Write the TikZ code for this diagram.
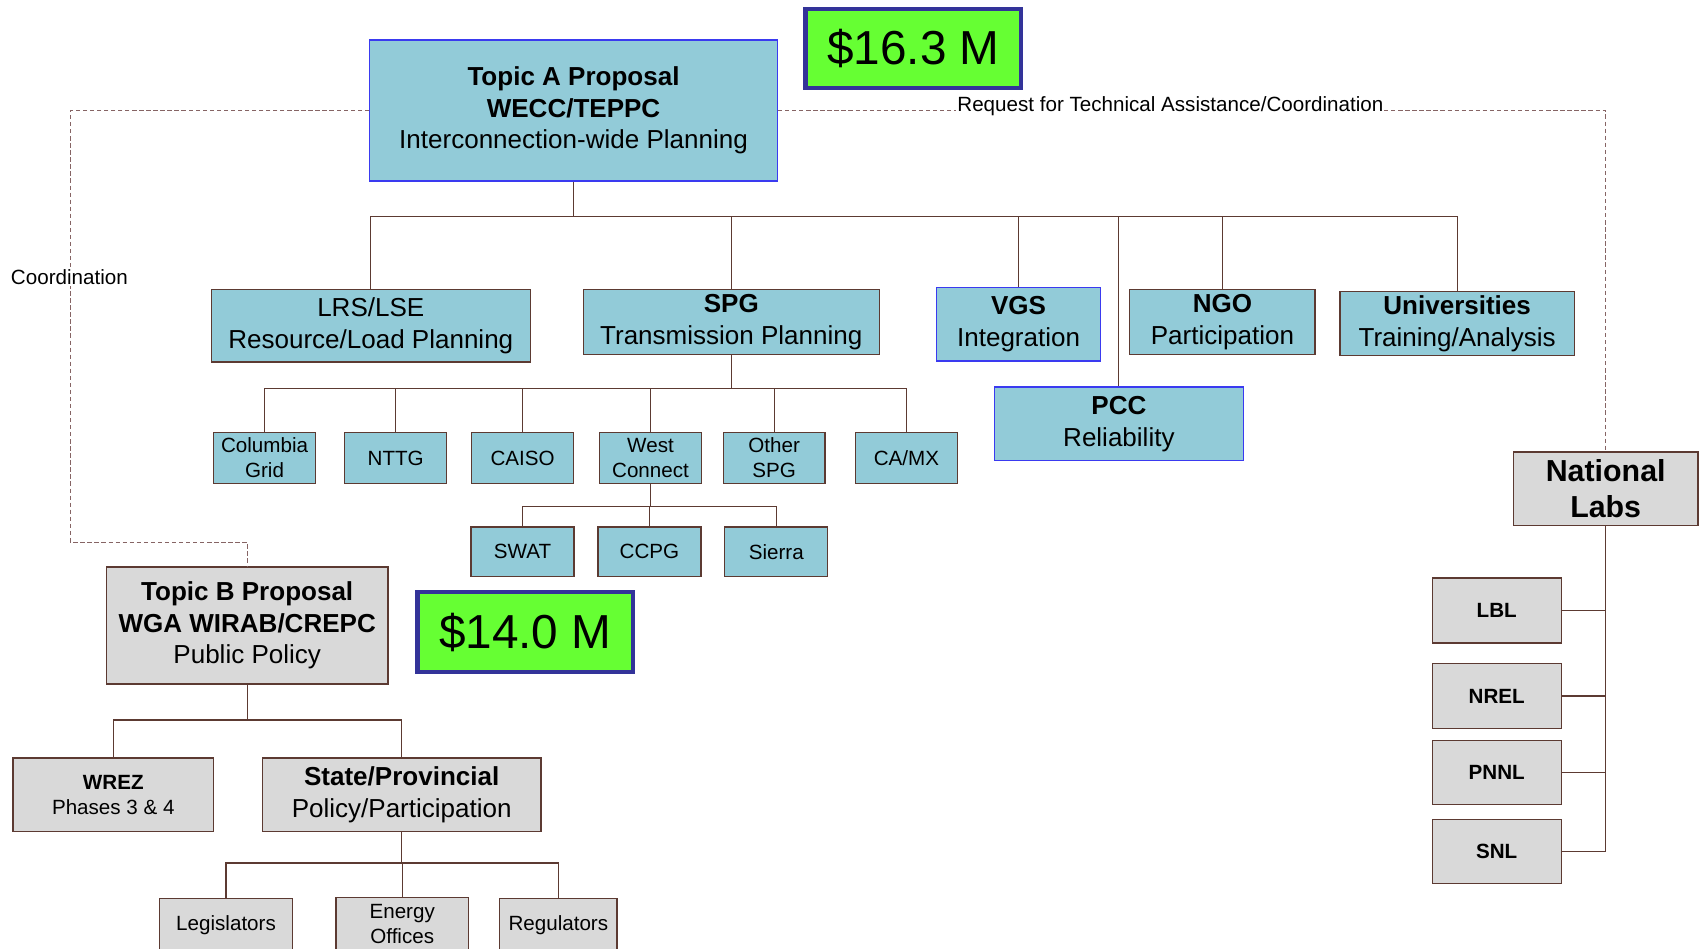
\documentclass[tikz,border=0pt]{standalone}
\usepackage{fontspec}
\setmainfont{Liberation Sans}
\usetikzlibrary{positioning}

\definecolor{aqua}{HTML}{92CBD8}
\definecolor{greyfill}{HTML}{D9D9D9}
\definecolor{limefill}{HTML}{66FF33}
\definecolor{navyedge}{HTML}{333399}
\definecolor{wire}{HTML}{5C3A32}
\definecolor{blueedge}{HTML}{3A3AF0}
\definecolor{dashcol}{HTML}{866464}

\newcommand{\szS}{\fontsize{19}{23}\selectfont}
\newcommand{\szM}{\fontsize{24}{29}\selectfont}
\newcommand{\szL}{\fontsize{28}{33}\selectfont}
\newcommand{\szX}{\fontsize{44}{50}\selectfont}

\begin{document}
\begin{tikzpicture}[x=1pt, y=-1pt,
        box/.style={draw=wire, line width=1.2pt, inner sep=0pt, align=center},
        aquabox/.style={box, fill=aqua},
        bluebox/.style={aquabox, draw=blueedge},
        greybox/.style={box, fill=greyfill},
        moneybox/.style={draw=navyedge, line width=4pt, fill=limefill, inner sep=0pt,
                         minimum width=199, minimum height=73, font=\szX},
        link/.style={draw=wire, line width=1.1pt},
        dashline/.style={draw=dashcol, line width=1pt, dash pattern=on 4pt off 2.5pt}]
        \useasboundingbox (0,0) rectangle (1568,875);

        \node[bluebox, minimum width=376, minimum height=130, font=\szM]   (topicA) at (529,102)    {\textbf{Topic A Proposal}\\\textbf{WECC/TEPPC}\\Interconnection-wide Planning};
        \node[moneybox]                                                    (moneyA) at (842.5,44.5) {\$16.3 M};

        \node[aquabox, minimum width=294, minimum height=67, font=\szM]    (lrs)    at (342,300.5)  {LRS/LSE\\Resource/Load Planning};
        \node[aquabox, minimum width=273, minimum height=60, font=\szM]    (spg)    at (674.5,297)  {\textbf{SPG}\\Transmission Planning};
        \node[bluebox, minimum width=151, minimum height=68, font=\szM]    (vgs)    at (939.5,299)  {\textbf{VGS}\\Integration};
        \node[aquabox, minimum width=171, minimum height=60, font=\szM]    (ngo)    at (1127.5,297) {\textbf{NGO}\\Participation};
        \node[aquabox, minimum width=216, minimum height=59, font=\szM]    (univ)   at (1344,298.5) {\textbf{Universities}\\Training/Analysis};
        \node[bluebox, minimum width=230, minimum height=68, font=\szM]    (pcc)    at (1032,391)   {\textbf{PCC}\\Reliability};

        \node[aquabox, minimum width=94, minimum height=47, font=\szS]     (colgrid) at (244,422.5) {Columbia\\Grid};
        \node[aquabox, minimum width=94, minimum height=47, font=\szS]     (nttg)    at (365,422.5) {NTTG};
        \node[aquabox, minimum width=94, minimum height=47, font=\szS]     (caiso)   at (482,422.5) {CAISO};
        \node[aquabox, minimum width=94, minimum height=47, font=\szS]     (westcon) at (600,422.5) {West\\Connect};
        \node[aquabox, minimum width=94, minimum height=47, font=\szS]     (otherspg) at (714,422.5) {Other\\SPG};
        \node[aquabox, minimum width=94, minimum height=47, font=\szS]     (camx)    at (836,422.5) {CA/MX};

        \node[aquabox, minimum width=95, minimum height=46, font=\szS]     (swat)    at (482,509)   {SWAT};
        \node[aquabox, minimum width=95, minimum height=46, font=\szS]     (ccpg)    at (599,509)   {CCPG};
        \node[aquabox, minimum width=95, minimum height=46, font=\szS]     (sierra)  at (716,509)   {Sierra};

        \node[greybox, minimum width=260, minimum height=108, font=\szM]   (topicB) at (228,577)    {\textbf{Topic B Proposal}\\\textbf{WGA WIRAB/CREPC}\\Public Policy};
        \node[moneybox, minimum height=74]                                 (moneyB) at (484.5,583)  {\$14.0 M};

        \node[greybox, minimum width=185, minimum height=68, font=\szS]    (wrez)   at (104.5,733)  {\textbf{WREZ}\\Phases 3 \& 4};
        \node[greybox, minimum width=257, minimum height=68, font=\szM]    (state)  at (370.5,733)  {\textbf{State/Provincial}\\Policy/Participation};

        \node[greybox, minimum width=123, minimum height=48, font=\szS]    (legis)  at (208.5,853)  {Legislators};
        \node[greybox, minimum width=122, minimum height=48, font=\szS]    (energy) at (371,852)    {Energy\\Offices};
        \node[greybox, minimum width=108, minimum height=48, font=\szS]    (regul)  at (515,853)    {Regulators};

        \node[greybox, minimum width=170, minimum height=68, font=\szL\bfseries] (natlabs) at (1481,451) {National\\Labs};
        \node[greybox, minimum width=119, minimum height=60, font=\szS\bfseries] (lbl)  at (1380.5,563)   {LBL};
        \node[greybox, minimum width=119, minimum height=60, font=\szS\bfseries] (nrel) at (1380.5,642)   {NREL};
        \node[greybox, minimum width=119, minimum height=59, font=\szS\bfseries] (pnnl) at (1380.5,712.5) {PNNL};
        \node[greybox, minimum width=119, minimum height=59, font=\szS\bfseries] (snl)  at (1380.5,785.5) {SNL};

        \coordinate (busA)  at (529,200);
        \coordinate (busS)  at (674.5,358);
        \coordinate (busW)  at (600,467);
        \coordinate (busB)  at (228,664);
        \coordinate (busP)  at (370.5,796);
        \coordinate (turnL) at (65,500);

        \draw[link] (topicA.south) -- (busA);
        \draw[link] (busA) -| (lrs.north);
        \draw[link] (busA) -| (spg.north);
        \draw[link] (busA) -| (vgs.north);
        \draw[link] (busA) -| (pcc.north);
        \draw[link] (busA) -| (ngo.north);
        \draw[link] (busA) -| (univ.north);

        \draw[link] (spg.south) -- (busS);
        \draw[link] (busS) -| (colgrid.north);
        \draw[link] (busS) -| (nttg.north);
        \draw[link] (busS) -| (caiso.north);
        \draw[link] (busS) -| (westcon.north);
        \draw[link] (busS) -| (otherspg.north);
        \draw[link] (busS) -| (camx.north);

        \draw[link] (westcon.south) -- (busW);
        \draw[link] (busW) -| (swat.north);
        \draw[link] (busW) -| (ccpg.north);
        \draw[link] (busW) -| (sierra.north);

        \draw[link] (topicB.south) -- (busB);
        \draw[link] (busB) -| (wrez.north);
        \draw[link] (busB) -| (state.north);

        \draw[link] (state.south) -- (busP);
        \draw[link] (busP) -| (legis.north);
        \draw[link] (busP) -| (energy.north);
        \draw[link] (busP) -| (regul.north);

        \draw[link] (natlabs.south) |- (snl.east);
        \draw[link] (lbl.east)  -- (lbl.east -| natlabs.south);
        \draw[link] (nrel.east) -- (nrel.east -| natlabs.south);
        \draw[link] (pnnl.east) -- (pnnl.east -| natlabs.south);

        \draw[dashline] (topicA.west) -| (turnL) -| (topicB.north);
        \draw[dashline] (topicA.east) -| (natlabs.north);
        \node[fill=white, inner sep=1pt, font=\szS]  (coordlbl) at (64,256)    {Coordination};
        \node[fill=white, inner sep=1pt, font=\szS]  (reqlbl)   at (1079.5,97.5) {Request for Technical Assistance/Coordination};
\end{tikzpicture}
\end{document}
